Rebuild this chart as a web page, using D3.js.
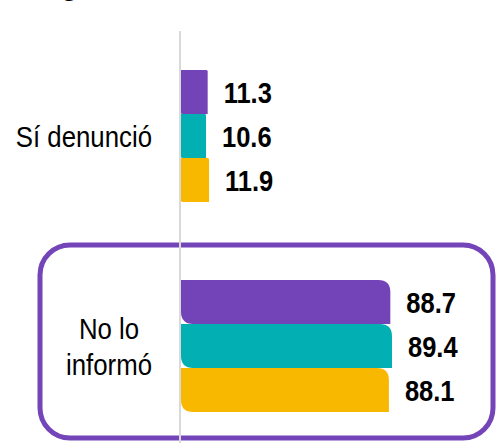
<!DOCTYPE html>
<html>
<head>
<meta charset="utf-8">
<script src="https://cdn.jsdelivr.net/npm/d3@7"></script>
<style>
  html, body { margin: 0; padding: 0; background: #ffffff; }
  svg { display: block; }
</style>
</head>
<body>
<svg id="chart" width="497" height="443"></svg>
<script>
const categories = [["Sí denunció"], ["No lo", "informó"]];
const seriesNames = ["Serie A", "Serie B", "Serie C"];
const seriesA = [11.3, 88.7];
const seriesB = [10.6, 89.4];
const seriesC = [11.9, 88.1];
const seriesColors = ["#7343b8", "#02afb3", "#f9b800"];
const labelFormat = d3.format(".1f");

const W = 497, H = 443;
const svg = d3.select("#chart");
const FONT = "'Liberation Sans', Arial, sans-serif";
const NARROW_VAL = 0.85;
const NARROW_CAT = 0.86;

const catKeys = categories.map(c => c.join(" "));
const x = d3.scaleLinear().domain([0, 100]).range([181, 417]);
const y = d3.scaleBand().domain(catKeys).range([70, 412]).paddingInner(0.371).paddingOuter(0);
const ys = d3.scaleBand().domain(seriesNames).range([0, y.bandwidth()]).padding(0);

const allSeries = [seriesA, seriesB, seriesC];
const rows = [];
catKeys.forEach((c, i) => {
  seriesNames.forEach((s, j) => rows.push({cat: c, series: s, value: allSeries[j][i], color: seriesColors[j]}));
});

// cut-off title descender at top
svg.append("text").attr("x", 61).attr("y", -5)
  .attr("font-family", FONT)
  .attr("font-weight", "bold").attr("font-size", 28).attr("fill", "#000").text("g");

// highlight box
svg.append("rect")
  .attr("x", 40).attr("y", 245).attr("width", 453).attr("height", 193)
  .attr("rx", 30).attr("ry", 30)
  .attr("fill", "none").attr("stroke", "#7445b9").attr("stroke-width", 5);

// axis line
svg.append("line")
  .attr("x1", x(0) - 1).attr("x2", x(0) - 1).attr("y1", 31).attr("y2", H)
  .attr("stroke", "#d9d9d9").attr("stroke-width", 2);

function barPath(d) {
  const x0 = x(0), x1 = x(d.value);
  const y0 = y(d.cat) + ys(d.series), y1 = y0 + ys.bandwidth();
  const r = Math.min((x1 - x0) * 0.058, ys.bandwidth() / 2);
  return `M${x0},${y0}H${x1 - r}Q${x1},${y0} ${x1},${y0 + r}V${y1}H${x0 + r}Q${x0},${y1} ${x0},${y1 - r}Z`;
}

svg.append("g").selectAll("path").data(rows).join("path")
  .attr("d", barPath).attr("fill", d => d.color);

svg.append("g").selectAll("g").data(rows).join("g")
  .attr("transform", d => `translate(${x(d.value) + 16},${y(d.cat) + ys(d.series) + ys.bandwidth() / 2}) scale(${NARROW_VAL},1)`)
  .append("text")
  .attr("dy", "0.36em")
  .attr("font-family", FONT).attr("font-weight", "bold").attr("font-size", 30)
  .attr("fill", "#000")
  .text(d => labelFormat(d.value));

// category labels
const labelRight = 152, lineH = 36;
categories.forEach((lines, i) => {
  const cy = y(catKeys[i]) + y.bandwidth() / 2;
  const items = lines.map((ln, k) => {
    const g = svg.append("g");
    const t = g.append("text")
      .attr("dy", "0.36em")
      .attr("font-family", FONT).attr("font-size", 30).attr("fill", "#000")
      .attr("text-anchor", "middle").text(ln);
    return {g, yy: cy + (k - (lines.length - 1) / 2) * lineH, w: t.node().getComputedTextLength() * NARROW_CAT};
  });
  const maxW = Math.max(...items.map(d => d.w));
  items.forEach(d => d.g.attr("transform", `translate(${labelRight - maxW / 2},${d.yy}) scale(${NARROW_CAT},1)`));
});
</script>
</body>
</html>
